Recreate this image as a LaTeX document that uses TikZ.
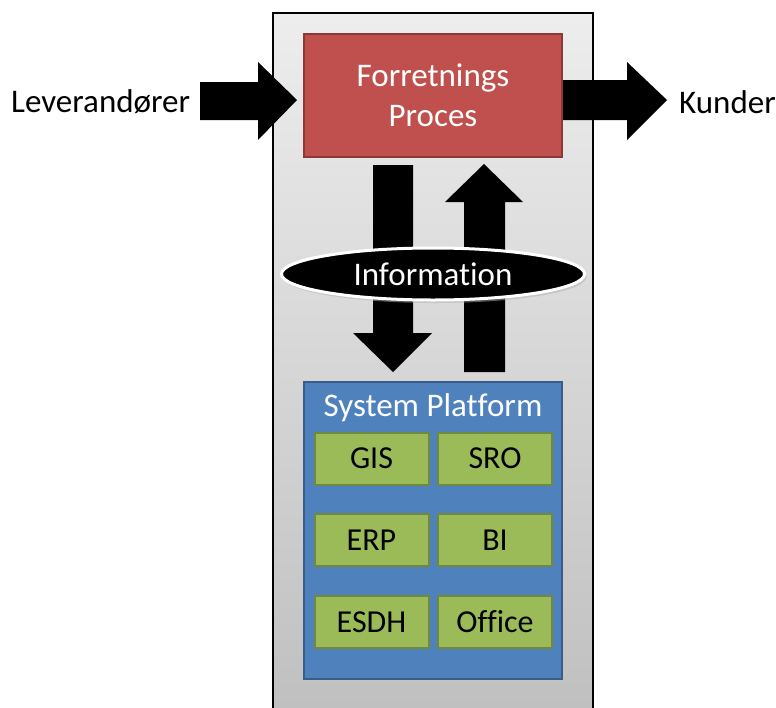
\documentclass[tikz,border=0pt]{standalone}
\usepackage{fontspec}
\setmainfont{Carlito}[Ligatures=NoCommon]
\usetikzlibrary{shapes.geometric}
\definecolor{redfill}{HTML}{C0504D}
\definecolor{redline}{HTML}{8C3836}
\definecolor{bluefill}{HTML}{4F81BD}
\definecolor{blueline}{HTML}{385D8A}
\definecolor{greenfill}{HTML}{9BBB59}
\definecolor{greenline}{HTML}{71893F}
\tikzset{
  bigtext/.style={font=\fontsize{33}{40}\selectfont},
  greenbox/.style={draw=greenline, line width=2pt, fill=greenfill, minimum width=114pt, minimum height=52pt, inner sep=0pt, font=\fontsize{32}{38}\selectfont, text=black},
  blockarrow/.style={fill=black, draw=none},
}
\begin{document}
\begin{tikzpicture}[x=1pt,y=-1pt]
\useasboundingbox (0,0) rectangle (776,707);
\clip (0,0) rectangle (776,707);
% panel
\shade[top color=black!7, bottom color=black!25] (273,13) rectangle (593,720);
\draw[line width=1.6pt] (273,720) -- (273,13) -- (593,13) -- (593,720);
% side arrows
\fill[blockarrow] (200,82) -- (258,82) -- (258,62) -- (297,100) -- (258,140) -- (258,120) -- (200,120) -- cycle;
\fill[blockarrow] (563,80) -- (627,80) -- (627,62) -- (667,100) -- (627,140) -- (627,120) -- (563,120) -- cycle;
% red box
\node[draw=redline, line width=2pt, fill=redfill, minimum width=258pt, minimum height=123pt, inner sep=0pt, text=white, bigtext, align=center] (proc) at (433,95) {Forretnings\\Proces};
% vertical arrows
\fill[blockarrow] (373,165) -- (413,165) -- (413,333) -- (432,333) -- (393,372) -- (353,333) -- (373,333) -- cycle;
\fill[blockarrow] (464,372) -- (505,372) -- (505,202) -- (523,202) -- (484,164) -- (445,202) -- (464,202) -- cycle;
% ellipse
\node[ellipse, fill=black!30, minimum width=303pt, minimum height=52pt, opacity=0.5] at (435,277) {};
\node[ellipse, draw=white, line width=3pt, fill=black, minimum width=303pt, minimum height=52pt, inner sep=0pt, text=white, bigtext] (info) at (433,274) {Information};
% blue box
\node[draw=blueline, line width=2pt, fill=bluefill, minimum width=258pt, minimum height=297pt, inner sep=0pt] (plat) at (433,530.5) {};
\node[text=white, bigtext] (plattitle) at (433,408) {System Platform};
% green boxes
\node[greenbox] (gis) at (371.5,458.5) {GIS};
\node[greenbox] (sro) at (495,458.5) {SRO};
\node[greenbox] (erp) at (371.5,540) {ERP};
\node[greenbox] (bi) at (495,540) {BI};
\node[greenbox] (esdh) at (371.5,622) {ESDH};
\node[greenbox] (office) at (495,622) {Office};
% side labels
\node[bigtext, anchor=west, inner sep=0pt] (lev) at (11,102) {Leverandører};
\node[bigtext, anchor=west, inner sep=0pt] (kun) at (679,102) {Kunder};
\end{tikzpicture}
\end{document}
